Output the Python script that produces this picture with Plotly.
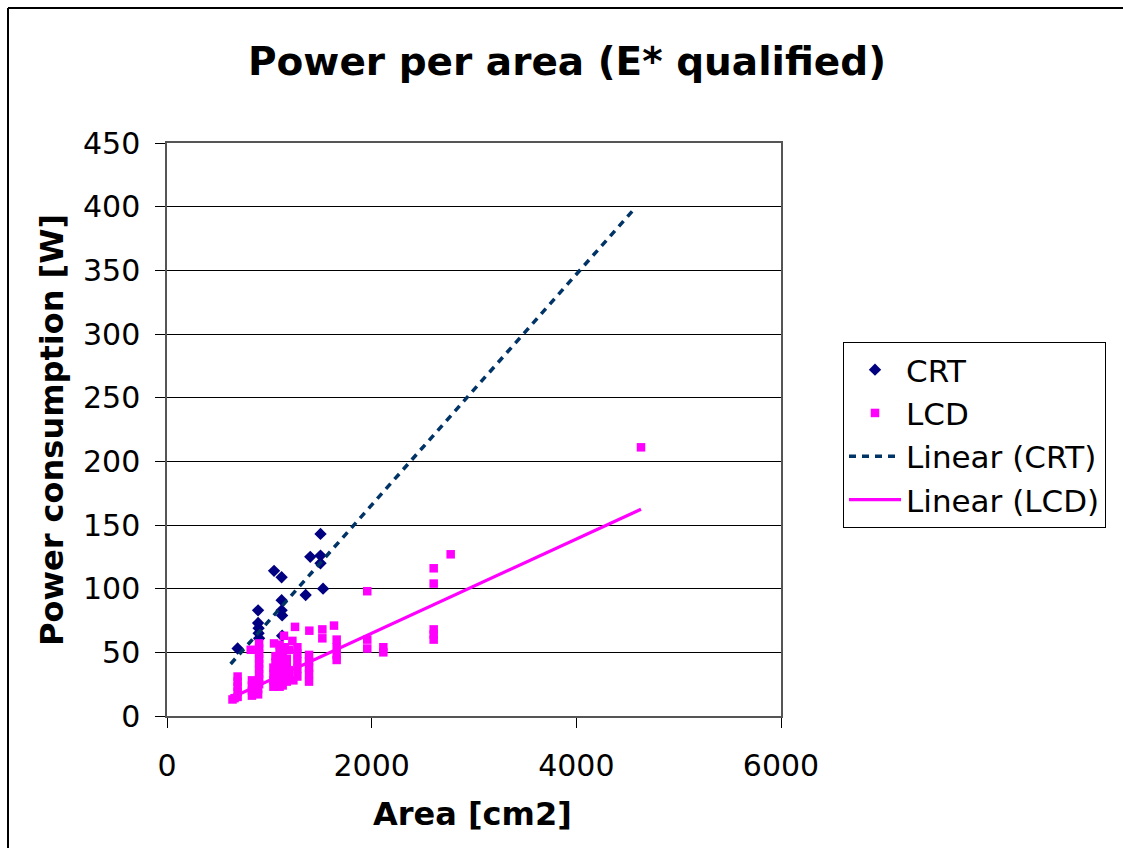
import numpy as np
import plotly.graph_objects as go

# ---- data ----
crt_area = [690, 890, 890, 895, 895, 900, 1046, 1120, 1120, 1120, 1125, 1125,
            1355, 1400, 1500, 1500, 1500, 1525]
crt_power = [53, 83, 73, 69, 65, 61, 114, 109, 91, 83, 79, 63,
             95, 125, 143, 126, 120, 100]

lcd_area = [640, 660, 690, 690, 690, 690, 690,
            818, 830, 830, 830, 830,
            890, 890, 900, 900, 900, 900, 900, 900, 900, 900, 900,
            1040, 1040, 1040, 1040, 1046, 1060, 1060, 1060, 1060, 1060,
            1100, 1100, 1100, 1100, 1100, 1100,
            1130, 1130, 1130, 1130, 1130, 1143, 1150,
            1170, 1170, 1170, 1170, 1190, 1190, 1190,
            1225, 1235, 1251, 1274, 1274, 1274, 1274, 1274,
            1388, 1388, 1388, 1388, 1388, 1391,
            1518, 1518, 1632, 1658, 1658, 1658, 1658,
            1957, 1957, 1957, 2114, 2114,
            2606, 2606, 2606, 2606, 2606, 2772, 4632]
lcd_power = [13, 14, 15, 19, 23, 27, 31,
             52, 16, 20, 24, 28,
             17, 21, 25, 29, 33, 37, 41, 45, 49, 53, 57,
             23, 28, 33, 38, 57, 25, 31, 36, 42, 47,
             23, 30, 38, 44, 50, 56,
             24, 29, 35, 42, 48, 63, 54,
             27, 33, 39, 45, 30, 36, 52,
             59, 28, 70, 31, 37, 43, 49, 54,
             27, 33, 38, 43, 48, 67,
             68, 61, 71, 44, 48, 54, 60,
             98, 53, 60, 50, 54,
             116, 104, 60, 64, 68, 127, 211]

# linear trendline coefficients and spans
crt_slope, crt_intercept = 0.0906, -15.5
crt_trend_x = [622, 4573]
lcd_slope, lcd_intercept = 0.0370, -9.0
lcd_trend_x = [640, 4632]

x_ticks = [0, 2000, 4000, 6000]
y_ticks = [0, 50, 100, 150, 200, 250, 300, 350, 400, 450]

FONT = "DejaVu Sans"

crt_tx = np.array(crt_trend_x, dtype=float)
lcd_tx = np.array(lcd_trend_x, dtype=float)

fig = go.Figure()
fig.add_trace(go.Scatter(x=crt_area, y=crt_power, mode="markers", name="CRT",
                         legendgroup="a",
                         marker=dict(symbol="diamond", size=9.5, color="#000080")))
fig.add_trace(go.Scatter(x=lcd_area, y=lcd_power, mode="markers", name="LCD",
                         legendgroup="b",
                         marker=dict(symbol="square", size=8.5, color="#FF00FF")))
fig.add_trace(go.Scatter(x=crt_tx, y=crt_slope * crt_tx + crt_intercept,
                         mode="lines", name="Linear (CRT)", legendgroup="c",
                         line=dict(color="#003366", width=3.5, dash="7px,6px")))
fig.add_trace(go.Scatter(x=lcd_tx, y=lcd_slope * lcd_tx + lcd_intercept,
                         mode="lines", name="Linear (LCD)", legendgroup="d",
                         line=dict(color="#FF00FF", width=3.2)))

W, H = 1123, 848
L, R, T, B = 167, 781, 143, 716


def px(xp):
    return (xp - L) / (R - L)


def py(yp):
    return (B - yp) / (B - T)


fig.update_layout(
    width=W, height=H,
    margin=dict(l=L, r=W - R, t=T, b=H - B, pad=0),
    paper_bgcolor="white", plot_bgcolor="white",
    font=dict(family=FONT, size=29, color="black"),
    title=dict(text="<b>Power per area (E* qualified)</b>",
               font=dict(family=FONT, size=39, color="black"),
               x=567 / W, xanchor="center", xref="container",
               y=1 - 61 / H, yanchor="middle", yref="container"),
    showlegend=True,
    legend=dict(x=px(843), y=py(342), xanchor="left", yanchor="top",
                bordercolor="black", borderwidth=1, bgcolor="white",
                font=dict(family=FONT, size=31, color="black"),
                itemwidth=52, tracegroupgap=0, traceorder="grouped"),
    xaxis=dict(range=[0, 6000], tickvals=x_ticks, ticktext=[str(v) for v in x_ticks],
               showgrid=False, zeroline=False,
               showline=True, linecolor="#555555", linewidth=1.5, mirror=True,
               ticks="outside", ticklen=10, tickcolor="black", tickwidth=1,
               ticklabelstandoff=12,
               tickfont=dict(family=FONT, size=30, color="black")),
    yaxis=dict(range=[0, 450], tickvals=y_ticks, ticktext=[str(v) for v in y_ticks],
               showgrid=True, gridcolor="black", gridwidth=1, zeroline=False,
               showline=True, linecolor="#555555", linewidth=1.5, mirror=True,
               ticks="outside", ticklen=10, tickcolor="black", tickwidth=1,
               ticklabelstandoff=9,
               tickfont=dict(family=FONT, size=30, color="black")),
    annotations=[
        dict(text="<b>Area [cm2]</b>", xref="paper", yref="paper",
             x=px(472), y=py(814), xanchor="center", yanchor="middle",
             showarrow=False, font=dict(family=FONT, size=32, color="black")),
        dict(text="<b>Power consumption [W]</b>", xref="paper", yref="paper",
             x=px(52), y=py(430), xanchor="center", yanchor="middle", textangle=-90,
             showarrow=False, font=dict(family=FONT, size=32, color="black")),
    ],
    shapes=[
        # outer chart frame: only the left and top edges are visible in the picture
        dict(type="line", xref="paper", yref="paper",
             x0=px(8), x1=px(8), y0=py(880), y1=py(8),
             line=dict(color="black", width=2), layer="below"),
        dict(type="line", xref="paper", yref="paper",
             x0=px(8), x1=px(1150), y0=py(8), y1=py(8),
             line=dict(color="black", width=2), layer="below"),
    ],
)

fig.write_html(
    "out.html",
    config={"displayModeBar": False},
    post_script="document.body.style.margin='0';document.body.style.overflow='hidden';",
)
